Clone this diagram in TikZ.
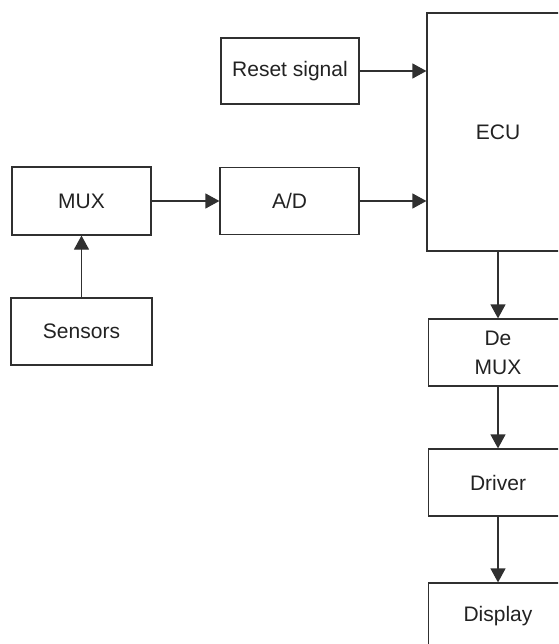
\documentclass[tikz,border=0pt]{standalone}
\usepackage{fontspec}
\setmainfont{Liberation Sans}
\usetikzlibrary{arrows.meta}
\definecolor{ln}{HTML}{303030}
\definecolor{tx}{HTML}{222222}
\begin{document}
\begin{tikzpicture}[x=1pt,y=1pt,
  blk/.style={draw=ln, line width=1.2pt, rectangle, inner sep=0pt, align=center,
    text=tx, font=\fontsize{21}{29}\selectfont},
  conn/.style={draw=ln, line width=1.2pt, -{Triangle[length=14pt,width=15pt]}}]
\useasboundingbox (0,0) rectangle (558,-644);
\clip (0,0) rectangle (558,-644);
\node[blk, minimum width=138pt, minimum height=66pt] (reset) at (290,-71) {Reset signal};
\node[blk, minimum width=142pt, minimum height=238pt] (ecu) at (498,-132) {ECU};
\node[blk, minimum width=139pt, minimum height=68pt] (mux) at (81.5,-201) {MUX};
\node[blk, minimum width=139pt, minimum height=67pt] (ad) at (289.5,-201) {A/D};
\node[blk, minimum width=141pt, minimum height=67pt] (sens) at (81.5,-331.5) {Sensors};
\node[blk, minimum width=139pt, minimum height=67pt] (demux) at (498,-352.5) {De\\MUX};
\node[blk, minimum width=139pt, minimum height=67pt] (drv) at (498,-482.5) {Driver};
\node[blk, minimum width=139pt, minimum height=67pt] (disp) at (498,-616.5) {Display};
\draw[conn] (reset.east) -- (reset.east -| ecu.west);
\draw[conn] (ad.east) -- (ad.east -| ecu.west);
\draw[conn] (mux.east) -- (ad.west);
\draw[conn] (sens.north) -- (mux.south);
\draw[conn] (ecu.south) -- (demux.north);
\draw[conn] (demux.south) -- (drv.north);
\draw[conn] (drv.south) -- (disp.north);
\end{tikzpicture}
\end{document}
